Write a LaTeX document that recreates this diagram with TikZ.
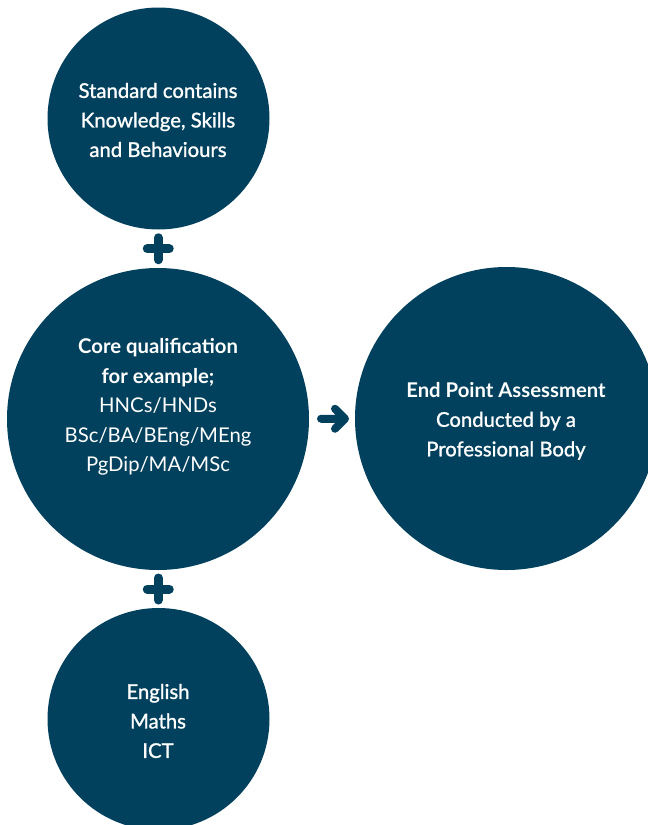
\documentclass[tikz,border=0pt]{standalone}
\usepackage{fontspec}
\setmainfont{Lato}
\newfontfamily\medfont{Lato}[FakeBold=1.2]
\usetikzlibrary{calc}
\definecolor{navy}{RGB}{2,65,94}
\tikzset{
  disc/.style={circle, fill=navy, inner sep=0pt, minimum size=#1},
  txt/.style={text=white, align=center, inner sep=0pt, font=\fontsize{20.3}{29.5}\selectfont\medfont},
  sym/.style={draw=navy, line width=9pt, line cap=round, line join=round},
}
\begin{document}
\begin{tikzpicture}[x=1pt,y=-1pt]
\useasboundingbox (0,0) rectangle (648,825);
\clip (0,0) rectangle (648,825);
\node[disc=222pt] (c1) at (158.5,118.5) {};
\node[disc=302pt] (c2) at (158,419) {};
\node[disc=303pt] (c3) at (506.5,418.5) {};
\node[disc=222pt] (c4) at (158.5,719) {};
\node[txt] (t1) at (158,120) {Standard contains\\Knowledge, Skills\\and Behaviours};
\node[txt] (t2) at (158,407) {{\normalfont\bfseries Core qualification}\\{\normalfont\bfseries for example;}\\{\normalfont HNCs/HNDs}\\{\normalfont BSc/BA/BEng/MEng}\\{\normalfont PgDip/MA/MSc}};
\node[txt] (t3) at (506,421) {{\normalfont\bfseries End Point Assessment}\\Conducted by a\\Professional Body};
\node[txt] (t4) at (158,721) {English\\Maths\\ICT};
\coordinate (p1) at ($(c1.south)!0.5!(c2.north)$);
\coordinate (p2) at ($(c2.south)!0.5!(c4.north)$);
\coordinate (a) at ($(c2.east)!0.5!(c3.west)$);
\draw[sym] ($(p1)+(-11,0)$) -- ($(p1)+(11,0)$) ($(p1)+(0,-11)$) -- ($(p1)+(0,11)$);
\draw[sym] ($(p2)+(-11,0)$) -- ($(p2)+(11,0)$) ($(p2)+(0,-11)$) -- ($(p2)+(0,11)$);
\draw[sym, line width=8pt] ($(a)+(-11,0)$) -- ($(a)+(13,0)$) ($(a)+(3,-10)$) -- ($(a)+(13,0)$) -- ($(a)+(3,10)$);
\end{tikzpicture}
\end{document}
